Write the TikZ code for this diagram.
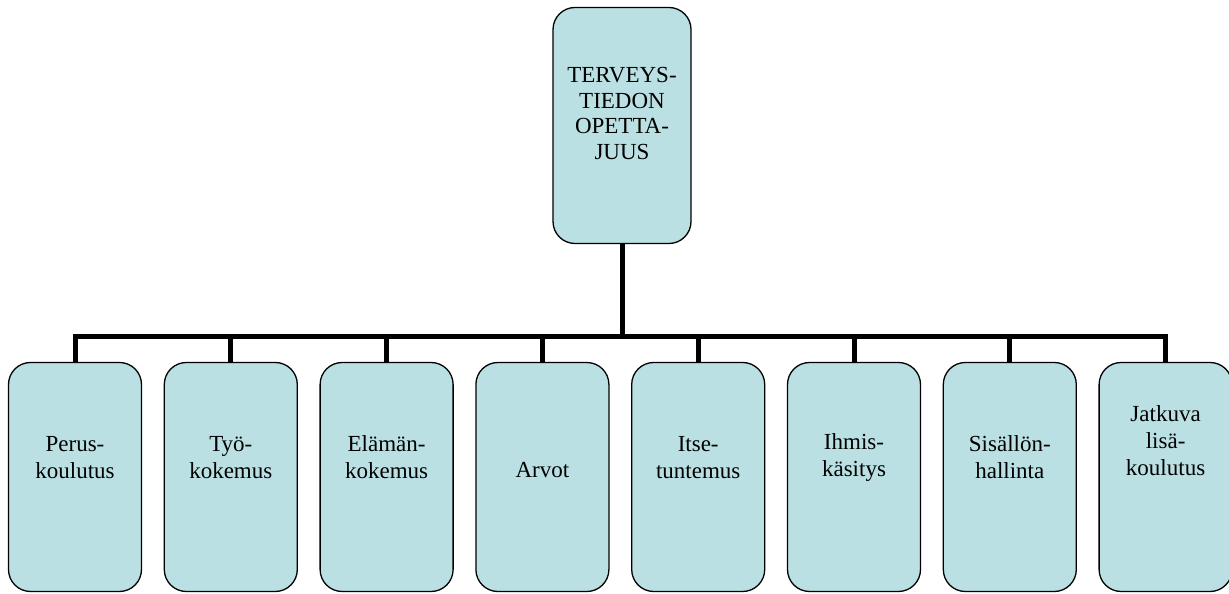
\documentclass[tikz,border=0pt]{standalone}
\usepackage{fontspec}
\setmainfont{Liberation Serif}
\usetikzlibrary{positioning}

\definecolor{boxfill}{RGB}{186,224,227}

\tikzset{
  box/.style={draw, fill=boxfill, line width=1.3pt, rounded corners=22pt,
              minimum width=133pt, minimum height=229pt, inner sep=0pt},
  txt/.style={align=center, inner sep=0pt, font=\fontsize{23}{27}\selectfont},
  conn/.style={line width=5pt}
}

\begin{document}
\begin{tikzpicture}[x=1pt, y=1pt, node distance=21.5pt]
    \useasboundingbox (0,0) rectangle (1229,594);

    \node[box, minimum width=138pt, minimum height=236pt] (top) at (622,468.5) {};
    \node[txt, font=\fontsize{23}{25.5}\selectfont, yshift=12pt] (toptxt) at (top) {TERVEYS-\\TIEDON\\OPETTA-\\JUUS};

    \node[box] (perus) at (75,117) {};
    \node[box, right=of perus] (tyo) {};
    \node[box, right=of tyo] (elama) {};
    \node[box, right=of elama] (arvot) {};
    \node[box, right=of arvot] (itse) {};
    \node[box, right=of itse] (ihmis) {};
    \node[box, right=of ihmis] (sisalto) {};
    \node[box, right=of sisalto] (jatkuva) {};

    \node[txt, above=113pt of perus.south] (perustxt) {Perus-\\koulutus};
    \node[txt, above=113pt of tyo.south] (tyotxt) {Työ-\\kokemus};
    \node[txt, above=113pt of elama.south] (elamatxt) {Elämän-\\kokemus};
    \node[txt, above=114pt of arvot.south] (arvottxt) {Arvot};
    \node[txt, above=113pt of itse.south] (itsetxt) {Itse-\\tuntemus};
    \node[txt, above=110pt of ihmis.south] (ihmistxt) {Ihmis-\\käsitys};
    \node[txt, above=113pt of sisalto.south] (sisaltotxt) {Sisällön-\\hallinta};
    \node[txt, above=116pt of jatkuva.south] (jatkuvatxt) {Jatkuva\\lisä-\\koulutus};

    \coordinate (bar) at (0,257);
    \draw[conn] (top.south) -- (top.south |- bar);
    \draw[conn, line cap=rect] (perus.north |- bar) -- (jatkuva.north |- bar);
    \foreach \n in {perus, tyo, elama, arvot, itse, ihmis, sisalto, jatkuva}
        \draw[conn] (\n.north) -- (\n.north |- bar);
\end{tikzpicture}
\end{document}
